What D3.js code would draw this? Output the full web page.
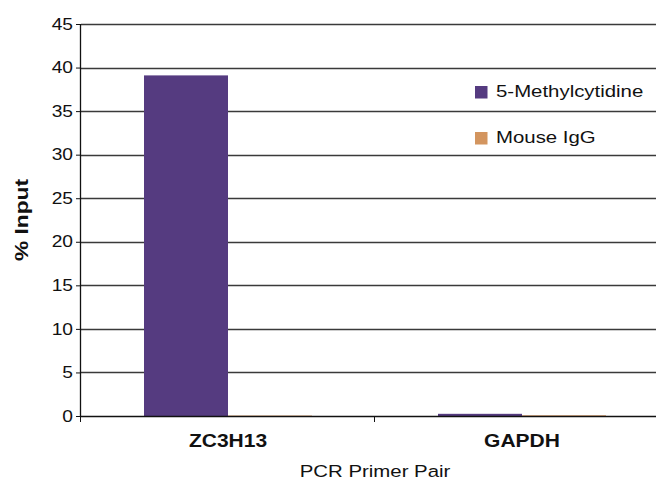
<!DOCTYPE html>
<html><head><meta charset="utf-8">
<script src="https://cdn.jsdelivr.net/npm/d3@7"></script>
<style>
html,body{margin:0;padding:0;background:#fff;}
text{font-family:"Liberation Sans",Arial,sans-serif;fill:#111;}
</style></head>
<body><svg id="c" width="656" height="481"></svg>
<script>
const categories = ["ZC3H13", "GAPDH"];
const seriesNames = ["5-Methylcytidine", "Mouse IgG"];
const methylValues = [39.1, 0.25];
const iggValues = [0.05, 0.08];
const yTicks = [0, 5, 10, 15, 20, 25, 30, 35, 40, 45];
const colors = ["#553b80", "#d3955f"];

(function () {
const rows = categories.map((c, i) => ({cat: c, vals: [methylValues[i], iggValues[i]]}));

const svg = d3.select("#c");
const SX = 1.2;
const pLeft = 81, pRight = 669, pTop = 24, pBottom = 416;

const x = d3.scaleBand().domain(categories).range([pLeft, pRight]).paddingInner(0).paddingOuter(0);
const x1 = d3.scaleBand().domain(seriesNames).range([0, x.bandwidth()]).paddingInner(0).paddingOuter(0.75);
const y = d3.scaleLinear().domain([0, 45]).range([pBottom, pTop]);

// gridlines
svg.append("g").selectAll("line").data(yTicks.filter(d => d > 0)).join("line")
  .attr("x1", pLeft).attr("x2", pRight)
  .attr("y1", d => Math.round(y(d)) + 0.5).attr("y2", d => Math.round(y(d)) + 0.5)
  .attr("stroke", "#3a3a3a").attr("stroke-width", 1.4);

// bars
const g = svg.append("g").selectAll("g").data(rows).join("g")
  .attr("transform", d => `translate(${x(d.cat)},0)`);
g.selectAll("rect").data(d => d.vals.map((v, i) => ({v, s: seriesNames[i], i}))).join("rect")
  .attr("x", d => x1(d.s)).attr("width", x1.bandwidth())
  .attr("y", d => y(d.v)).attr("height", d => Math.max(1, y(0) - y(d.v)))
  .attr("fill", d => colors[d.i]);

// y axis
const ya = svg.append("g").attr("transform", `translate(${pLeft},0)`)
  .call(d3.axisLeft(y).tickValues(yTicks).tickSize(5).tickPadding(4).tickFormat(d3.format("d")));
ya.select(".domain").attr("stroke", "#111").attr("stroke-width", 1.3).attr("d", `M-0.5,${pTop}V${pBottom}`);
ya.selectAll(".tick line").attr("stroke", "#111");
ya.selectAll(".tick text").attr("font-size", 16).attr("fill", "#111")
  .attr("font-family", '"Liberation Sans",Arial,sans-serif')
  .attr("x", -8 / SX).attr("transform", `scale(${SX},1)`);

// x axis
const xa = svg.append("g").attr("transform", `translate(0,${pBottom})`);
xa.append("line").attr("x1", pLeft).attr("x2", pRight).attr("y1", 0.5).attr("y2", 0.5)
  .attr("stroke", "#111").attr("stroke-width", 1.3);
const bounds = categories.map(c => x(c)).concat([pRight]);
xa.selectAll("line.t").data(bounds).join("line").attr("class", "t")
  .attr("x1", d => d - 0.5).attr("x2", d => d - 0.5).attr("y1", 0).attr("y2", 6)
  .attr("stroke", "#111");

function stext(parent, tx, ty, str, size, anchor, weight) {
  return parent.append("text")
    .attr("transform", `translate(${tx},${ty}) scale(${SX},1)`)
    .attr("text-anchor", anchor).attr("font-size", size).attr("font-weight", weight || "normal")
    .text(str);
}
categories.forEach(c => stext(svg, x(c) + x.bandwidth() / 2, 447, c, 17.5, "middle", "bold"));
stext(svg, (pLeft + pRight) / 2, 477, "PCR Primer Pair", 17, "middle");

// y title
svg.append("text").attr("transform", `translate(28,220) rotate(-90) scale(1.3,1)`)
  .attr("text-anchor", "middle").attr("font-size", 17.5).attr("font-weight", "bold").text("% Input");

// legend
const lg = svg.append("g");
seriesNames.forEach((s, i) => {
  const yy = 97 + i * 46;
  lg.append("rect").attr("x", 475).attr("y", yy - 11).attr("width", 12.5).attr("height", 12.5).attr("fill", colors[i]);
  stext(lg, 496, yy, s, 17, "start");
});
})();
</script></body></html>
